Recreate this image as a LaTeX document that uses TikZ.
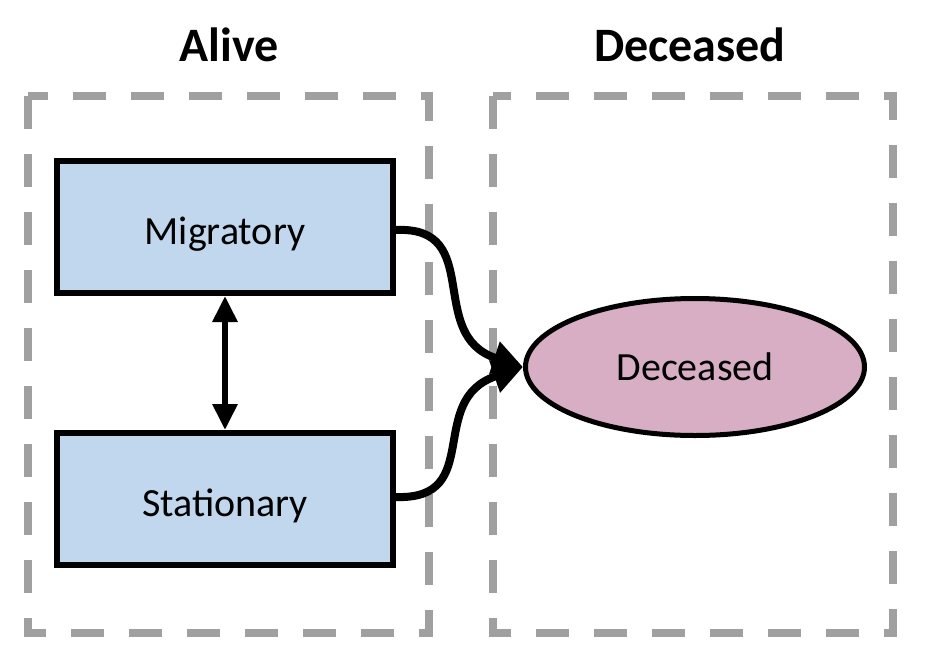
\documentclass[tikz,border=0pt]{standalone}
\usepackage{fontspec}
\setmainfont{Carlito}
\usetikzlibrary{arrows.meta,shapes.geometric}
\definecolor{boxblue}{HTML}{C0D7EE}
\definecolor{ellpink}{HTML}{D8AEC4}
\definecolor{dashgray}{HTML}{A0A0A0}
\begin{document}
\begin{tikzpicture}[x=1pt,y=-1pt,
  group/.style={draw=dashgray,line width=8pt,dash pattern=on 33pt off 25pt},
  statebox/.style={draw=black,line width=6pt,fill=boxblue,minimum width=336pt,minimum height=132pt,inner sep=0pt,text height=34pt,text depth=0pt,font=\fontsize{40}{44}\selectfont},
  deadell/.style={ellipse,draw=black,line width=5pt,fill=ellpink,minimum width=339pt,minimum height=137pt,inner sep=0pt,font=\fontsize{40}{44}\selectfont},
  title/.style={font=\fontsize{48}{52}\selectfont\bfseries},
  conn/.style={line width=8pt,-{Triangle[length=30pt,width=32pt]}},
  both/.style={line width=6pt,{Triangle[length=26pt,width=24pt]}-{Triangle[length=26pt,width=24pt]}}]
\useasboundingbox (0,0) rectangle (951,667);
\draw[group] (28,96) rectangle (429,633);
\draw[group] (493,96) rectangle (893,633);
\node[title] (talive) at (229,45) {Alive};
\node[title] (tdead) at (690,45) {Deceased};
\node[statebox] (mig) at (225,227) {Migratory};
\node[statebox] (sta) at (225,499) {Stationary};
\node[deadell] (dec) at (695,367) {Deceased};
\draw[both] (mig.south) -- (sta.south |- sta.north);
\draw[conn] (mig.east |- 0,230) .. controls (485,226) and (425,335) .. (dec.west);
\draw[conn] (sta.east |- 0,497) .. controls (485,500) and (425,400) .. (dec.west);
\end{tikzpicture}
\end{document}
